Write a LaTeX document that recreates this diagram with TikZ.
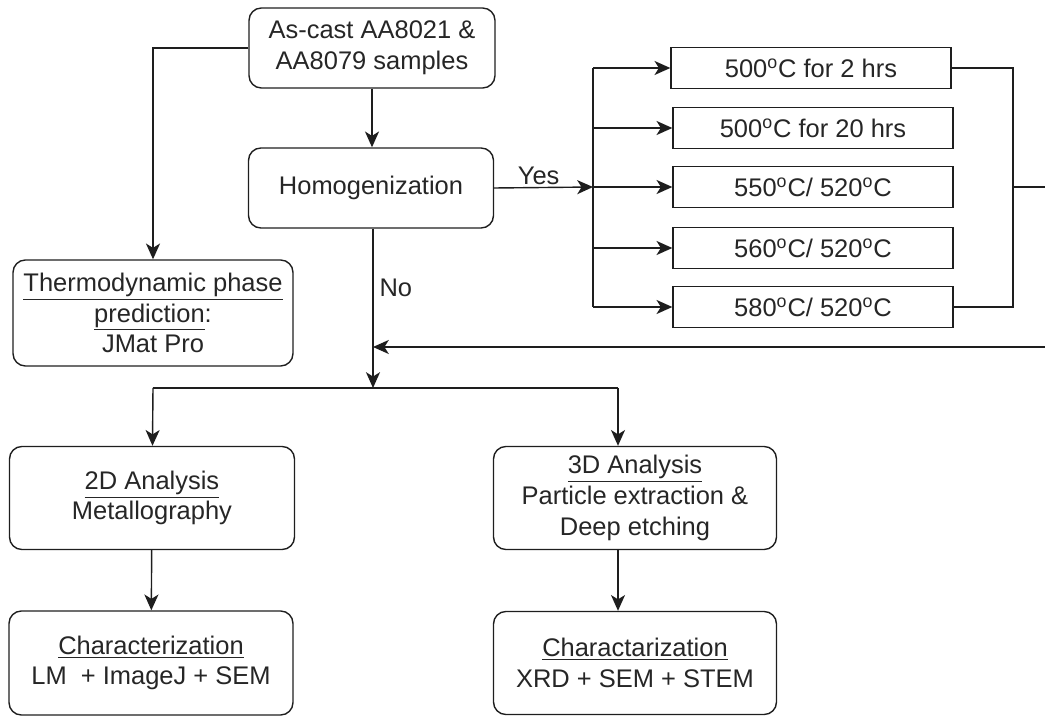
\documentclass[tikz,border=0pt]{standalone}
\usepackage{fontspec}
\setmainfont{Liberation Sans}
\usepackage{tikz}
\usetikzlibrary{arrows.meta, positioning, calc}
\definecolor{lncol}{RGB}{30,30,30}
\definecolor{txtcol}{RGB}{38,38,38}
\tikzset{
  rbox/.style={rectangle, draw=lncol, text=txtcol, align=center,
    rounded corners=7pt, line width=0.8pt,
    font=\fontsize{14.5}{17.5}\selectfont},
  tbox/.style={rectangle, draw=lncol, text=txtcol, align=center,
    minimum width=5.6cm, minimum height=0.82cm, line width=0.8pt,
    font=\fontsize{14.5}{17.5}\selectfont},
  arrow/.style={-{Stealth[length=9pt, width=8pt, inset=2.5pt]}, line width=0.8pt, color=lncol},
  line/.style={line width=0.8pt, color=lncol},
  lbl/.style={text=txtcol, font=\fontsize{14.5}{17.5}\selectfont}
}
\newcommand{\dg}{\textsuperscript{o}C}

\begin{document}
\begin{tikzpicture}[x=0.02cm, y=-0.02cm]
  \useasboundingbox (0,0) rectangle (1045,719);

  % Boxes
  \node[rbox, minimum width=4.92cm, minimum height=1.6cm] (ascast) at (372,48) {As-cast AA8021 \&\\AA8079 samples};
  \node[rbox, minimum width=4.9cm, minimum height=1.6cm] (homog) at (371,188) {Homogenization};
  \node[rbox, minimum width=5.6cm, minimum height=2.12cm] (thermo) at (153,313)
    {\underline{Thermodynamic phase}\\\underline{prediction}:\\JMat Pro};

  % Heat treatments
  \node[tbox] (t1) at (811,68) {500\dg{} for 2 hrs};
  \node[tbox] (t2) at (813,128) {500\dg{} for 20 hrs};
  \node[tbox] (t3) at (813,187) {550\dg/ 520\dg};
  \node[tbox] (t4) at (813,248) {560\dg/ 520\dg};
  \node[tbox] (t5) at (813,307) {580\dg/ 520\dg};

  % Analysis
  \node[rbox, minimum width=5.7cm, minimum height=2.06cm] (ana2d) at (152,498)
    {\underline{2D Analysis}\\Metallography};
  \node[rbox, minimum width=5.66cm, minimum height=2.06cm] (ana3d) at (635,498)
    {\underline{3D Analysis}\\Particle extraction \&\\Deep etching};
  \node[rbox, minimum width=5.68cm, minimum height=2.08cm] (char2d) at (151,663)
    {\underline{Characterization}\\LM~ + ImageJ + SEM};
  \node[rbox, minimum width=5.66cm, minimum height=2.06cm] (char3d) at (635,663)
    {\underline{Charactarization}\\XRD + SEM + STEM};

  % Junction points
  \coordinate (bus) at (593,187);
  \coordinate (colA) at (1013,187);
  \coordinate (colB) at (1013,307);
  \coordinate (edgeA) at (1045,187);
  \coordinate (edgeB) at (1045,347);
  \coordinate (join) at (373,388);
  \coordinate (split2d) at (153,388);
  \coordinate (split3d) at (618,388);

  % Paths
  \draw[arrow] (ascast.south) -- (ascast.south |- homog.north);
  \draw[arrow] (ascast.west) -| (thermo.north);
  \draw[arrow] (homog.east) -- (bus) node[lbl, above, pos=0.45, inner sep=1pt] {Yes};
  \draw[line] (bus |- t1) -- (bus |- t5);
  \foreach \t in {t1,t2,t3,t4,t5}
    \draw[arrow] (bus |- \t) -- (\t.west);
  \draw[line] (t1.east) -| (colB) -- (t5.east);
  \draw[line] (colA) -- (edgeA);
  \draw[arrow] (edgeB) -- (join |- edgeB);
  \draw[arrow] (join |- homog.south) -- (join) node[lbl, right, pos=0.37] {No};
  \draw[line] (split2d) -- (split3d);
  \draw[arrow] (split2d) -- (ana2d);
  \draw[arrow] (split3d) -- (split3d |- ana3d.north);
  \draw[arrow] (ana2d) -- (char2d);
  \draw[arrow] (split3d |- ana3d.south) -- (split3d |- char3d.north);
\end{tikzpicture}
\end{document}
